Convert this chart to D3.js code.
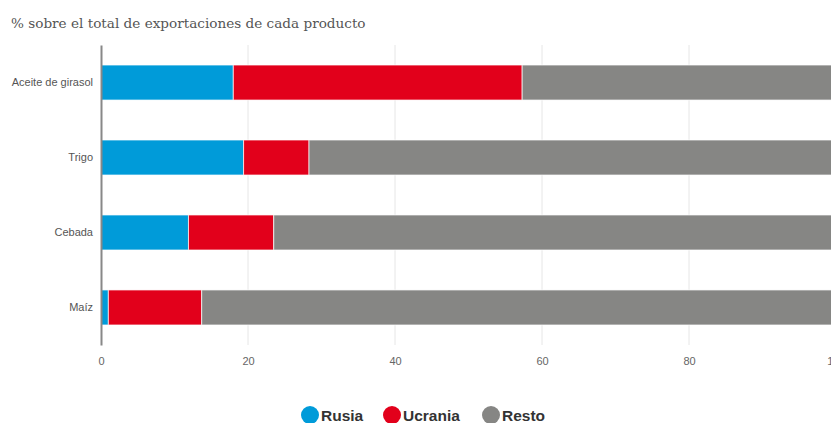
<!DOCTYPE html>
<html>
<head>
<meta charset="utf-8">
<script src="https://cdn.jsdelivr.net/npm/d3@7"></script>
<style>
  body { margin: 0; background: #fff; }
  svg { display: block; }
</style>
</head>
<body>
<svg width="831" height="423"></svg>
<script>
// datos (% sobre el total de exportaciones)
var productos = ["Aceite de girasol", "Trigo", "Cebada", "Maíz"];
var rusia   = [18.0, 19.4, 11.9, 1.0];
var ucrania = [39.3, 8.9, 11.6, 12.7];
var resto   = [42.7, 71.7, 76.5, 86.3];
var series = ["Rusia", "Ucrania", "Resto"];
var colores = ["#009bd9", "#e2001b", "#868684"];
var xTicks = [0, 20, 40, 60, 80, 100];

var svg = d3.select("svg"),
    margin = {top: 45, left: 101, bottom: 78},
    height = +svg.attr("height") - margin.top - margin.bottom;

var data = productos.map(function(p, i) {
  return {producto: p, Rusia: rusia[i], Ucrania: ucrania[i], Resto: resto[i]};
});

var x = d3.scaleLinear().domain([0, 100]).range([margin.left, 836]);
var y = d3.scaleBand().domain(productos)
    .range([margin.top, margin.top + height])
    .paddingInner(0.533).paddingOuter(0.267);

// titulo
svg.append("text")
    .attr("x", 11).attr("y", 28)
    .attr("font-family", "'DejaVu Serif', Georgia, serif")
    .attr("font-size", 13.6)
    .attr("fill", "#555")
    .text("% sobre el total de exportaciones de cada producto");

// rejilla
svg.append("g").selectAll("line")
    .data(xTicks.slice(1))
    .enter().append("line")
    .attr("x1", function(d) { return x(d); })
    .attr("x2", function(d) { return x(d); })
    .attr("y1", margin.top).attr("y2", margin.top + height)
    .attr("stroke", "#e6e6e6").attr("stroke-width", 1);

// barras apiladas
var stack = d3.stack().keys(series)(data);
svg.append("g").selectAll("g")
    .data(stack)
    .enter().append("g")
    .attr("fill", function(d, i) { return colores[i]; })
  .selectAll("rect")
    .data(function(d) { return d; })
    .enter().append("rect")
    .attr("x", function(d) { return x(d[0]); })
    .attr("y", function(d) { return y(d.data.producto); })
    .attr("width", function(d) { return x(d[1]) - x(d[0]); })
    .attr("height", y.bandwidth())
    .attr("stroke", "#fff").attr("stroke-opacity", 0.7).attr("stroke-width", 1);

// eje x
var xAxis = svg.append("g")
    .attr("transform", "translate(0," + (margin.top + height) + ")")
    .call(d3.axisBottom(x).tickValues(xTicks).tickSize(0).tickPadding(12));
xAxis.select(".domain").remove();
xAxis.selectAll("text")
    .attr("font-family", "'Liberation Sans Narrow', 'Liberation Sans', Arial, sans-serif")
    .attr("font-size", 11).attr("fill", "#666");

// eje y
var yAxis = svg.append("g")
    .attr("transform", "translate(" + margin.left + ",0)")
    .call(d3.axisLeft(y).tickSize(0).tickPadding(8));
yAxis.select(".domain")
    .attr("stroke", "#888").attr("stroke-width", 2);
yAxis.selectAll("text")
    .attr("font-family", "'Liberation Sans', Arial, sans-serif")
    .attr("font-size", 11).attr("fill", "#555");

// leyenda
var posLeyenda = [310, 392, 491];
var leyenda = svg.append("g").selectAll("g")
    .data(series)
    .enter().append("g")
    .attr("transform", function(d, i) { return "translate(" + posLeyenda[i] + ",415)"; });
leyenda.append("circle")
    .attr("r", 9)
    .attr("fill", function(d, i) { return colores[i]; });
leyenda.append("text")
    .attr("x", 11).attr("dy", "0.36em")
    .attr("font-family", "'Liberation Sans', Arial, sans-serif")
    .attr("font-size", 15.5).attr("font-weight", "bold")
    .attr("fill", "#333")
    .text(function(d) { return d; });
</script>
</body>
</html>
